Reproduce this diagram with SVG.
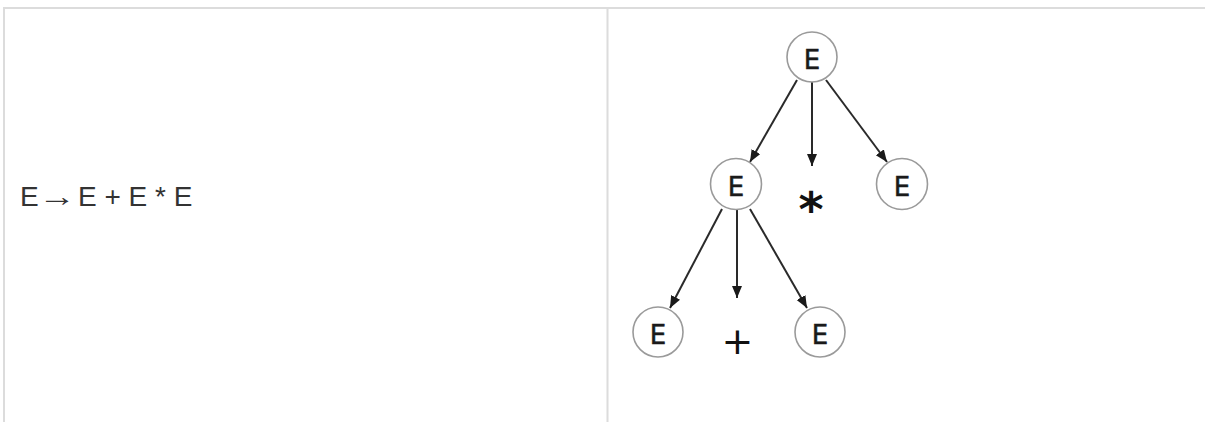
<svg xmlns="http://www.w3.org/2000/svg" width="1205" height="422" viewBox="0 0 1205 422">
<style>
.border{stroke:#dcdcdc;stroke-width:2;fill:none}
.node circle{fill:#fff;stroke:#9a9a9a;stroke-width:1.6}
.node text{font-family:"DejaVu Sans",sans-serif;font-size:26px;fill:#1a1a1a;stroke:#1a1a1a;stroke-width:0.5;text-anchor:middle}
.edge{stroke:#2a2a2a;stroke-width:2;fill:none;marker-end:url(#ah)}
.sym{font-family:"DejaVu Sans",sans-serif;fill:#111;text-anchor:middle}
.rule{font-family:"Liberation Sans",Arial,sans-serif;font-size:28px;fill:#333}
</style>
<defs>
<marker id="ah" markerUnits="userSpaceOnUse" markerWidth="14" markerHeight="12" refX="12" refY="5" orient="auto">
<path d="M0,0 L12,5 L0,10 z" fill="#1a1a1a"/>
</marker>
</defs>
<g id="table">
<line class="border" x1="3" y1="8" x2="1205" y2="8"/>
<line class="border" x1="4" y1="7" x2="4" y2="422"/>
<line class="border" x1="607.5" y1="8" x2="607.5" y2="422"/>
</g>
<g id="rule">
<text class="rule" x="20" y="206">E</text>
<text class="rule" transform="translate(38.5,206) scale(1.35,1)" x="0" y="0">→</text>
<text class="rule" x="78" y="206">E + E * E</text>
</g>
<g id="connectors">
<line class="edge" x1="797" y1="80" x2="750" y2="162"/>
<line class="edge" x1="812" y1="82" x2="812" y2="166"/>
<line class="edge" x1="826" y1="80" x2="887" y2="162"/>
<line class="edge" x1="722" y1="209" x2="670" y2="308"/>
<line class="edge" x1="737" y1="210" x2="737" y2="298"/>
<line class="edge" x1="750" y1="209" x2="807" y2="308"/>
</g>
<g id="n-root" class="node"><circle cx="812" cy="57" r="25"/><text x="812" y="69">E</text></g>
<g id="n-mid" class="node"><circle cx="736" cy="184" r="25.5"/><text x="736" y="196">E</text></g>
<g id="n-right" class="node"><circle cx="902" cy="184" r="25.5"/><text x="902" y="196">E</text></g>
<g id="n-bl" class="node"><circle cx="658" cy="332" r="25"/><text x="658" y="344">E</text></g>
<g id="n-br" class="node"><circle cx="820" cy="332" r="25"/><text x="820" y="344">E</text></g>
<g id="n-star"><text class="sym" x="811" y="226" font-size="48" font-weight="bold">*</text></g>
<g id="n-plus"><text class="sym" x="737.5" y="354" font-size="38">+</text></g>
</svg>
